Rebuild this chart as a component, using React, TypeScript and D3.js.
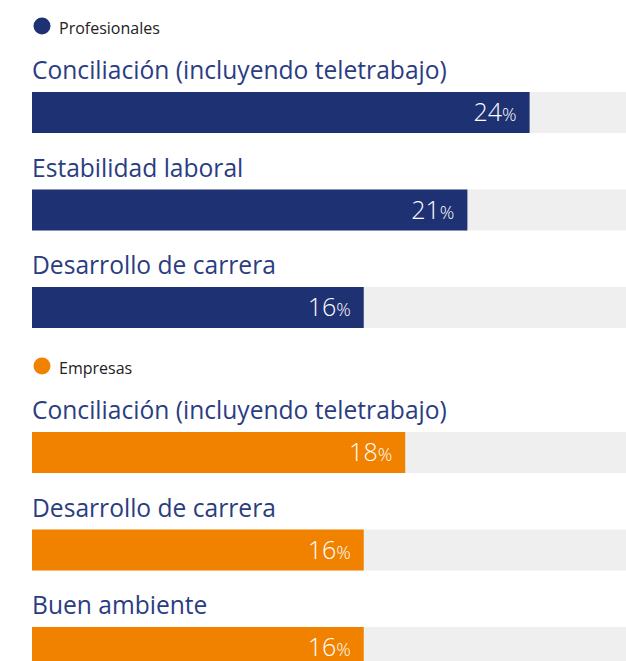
import * as d3 from "d3";
import { useEffect, useRef } from "react";

const profCategories = ["Conciliación (incluyendo teletrabajo)", "Estabilidad laboral", "Desarrollo de carrera"];
const profValues = [24, 21, 16];

const empCategories = ["Conciliación (incluyendo teletrabajo)", "Desarrollo de carrera", "Buen ambiente"];
const empValues = [18, 16, 16];

const groups = [
  { name: "Profesionales", color: "#1e3173", categories: profCategories, values: profValues },
  { name: "Empresas", color: "#f08200", categories: empCategories, values: empValues }
];

const W = 626;
const H = 661;

const App = () => {
  const chartRef = useRef(null);

  useEffect(() => {
    const svg = d3.select(chartRef.current);
    svg.selectAll("*").remove();

    const font = "'Open Sans', sans-serif";
    const x = d3.scaleLinear().domain([0, 30]).range([32, 654]);
    const barH = 41;
    const step = 97.5;
    const legendY = [26, 366];

    groups.forEach((g, gi) => {
      const top = legendY[gi];

      const legend = svg.append("g");
      legend.append("circle")
        .attr("cx", 42)
        .attr("cy", top)
        .attr("r", 8.5)
        .style("fill", g.color);
      legend.append("text")
        .attr("x", 59)
        .attr("y", top + 8)
        .style("font-family", font)
        .style("font-size", "16px")
        .style("fill", "#222")
        .text(g.name);

      const y = d3.scaleBand()
        .domain(g.categories)
        .range([top + 66, top + 66 + step * g.categories.length])
        .paddingInner(0);

      const rows = svg.append("g")
        .selectAll("g")
        .data(g.categories.map((c, i) => ({ c, v: g.values[i] })))
        .enter()
        .append("g")
        .attr("transform", d => `translate(0, ${y(d.c)})`);

      rows.append("text")
        .attr("x", 32)
        .attr("y", -13)
        .style("font-family", font)
        .style("font-size", "24.6px")
        .style("fill", "#2b3d82")
        .text(d => d.c);

      rows.append("rect")
        .attr("x", x(0))
        .attr("y", 0)
        .attr("width", x(30) - x(0))
        .attr("height", barH)
        .style("fill", "#efefef");

      rows.append("rect")
        .attr("x", x(0))
        .attr("y", 0)
        .attr("width", d => x(d.v) - x(0))
        .attr("height", barH)
        .style("fill", g.color);

      const lbl = rows.append("text")
        .attr("x", d => x(d.v) - 13)
        .attr("y", 29)
        .attr("text-anchor", "end")
        .style("font-family", font)
        .style("font-weight", 300)
        .style("fill", "#fff");
      lbl.append("tspan")
        .style("font-size", "25px")
        .text(d => d.v);
      lbl.append("tspan")
        .style("font-size", "18px")
        .text("%");
    });
  }, []);

  return (
    <svg
      ref={chartRef}
      width={W}
      height={H}
      style={{ position: "absolute", left: 0, top: 0, background: "#fff" }}
    ></svg>
  );
};

export default App;
